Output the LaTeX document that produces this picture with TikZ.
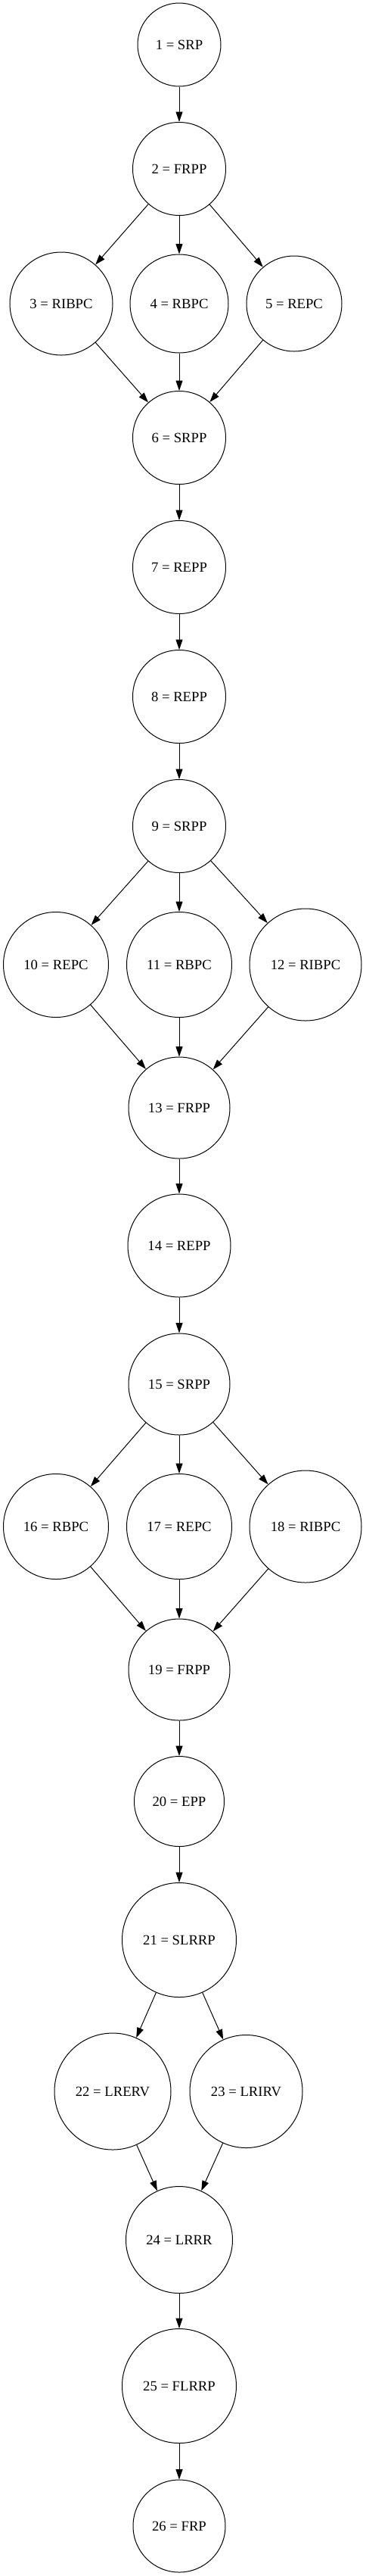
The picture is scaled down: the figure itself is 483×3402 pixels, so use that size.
\documentclass[tikz,border=0pt]{standalone}
\usepackage{fontspec}
\setmainfont{Liberation Serif}
\usetikzlibrary{arrows.meta}

\begin{document}
\begin{tikzpicture}[
    x=0.75pt, y=-0.75pt,
    circ/.style={draw, circle, line width=0.75pt, inner sep=0pt,
                 minimum size=#1*0.75pt, font=\fontsize{14}{16}\selectfont},
    arrow/.style={-{Triangle[length=10pt, width=6.7pt]}, line width=0.75pt, black},
]
\useasboundingbox (0,0) rectangle (483,3402);

% ===== 第一段 =====
\node[circ=110] (srp1)    at (237, 59)  {1 = SRP};
\node[circ=123] (frpp2)   at (237, 223) {2 = FRPP};
\node[circ=136] (ribpc3)  at (81, 401)  {3 = RIBPC};
\node[circ=130] (rbpc4)   at (237, 401) {4 = RBPC};
\node[circ=126] (repc5)   at (389, 401) {5 = REPC};
\node[circ=123] (srpp6)   at (237, 578) {6 = SRPP};
\node[circ=123] (repp7)   at (237, 749) {7 = REPP};
\node[circ=123] (repp8)   at (237, 920) {8 = REPP};

% ===== 第二段 =====
\node[circ=123] (srpp9)   at (237, 1091) {9 = SRPP};
\node[circ=139] (repc10)  at (74, 1274)  {10 = REPC};
\node[circ=139] (rbpc11)  at (237, 1274) {11 = RBPC};
\node[circ=148] (ribpc12) at (404, 1274) {12 = RIBPC};
\node[circ=134] (frpp13)  at (237, 1463) {13 = FRPP};
\node[circ=136] (repp14)  at (237, 1645) {14 = REPP};

% ===== 第三段 =====
\node[circ=134] (srpp15)  at (237, 1828) {15 = SRPP};
\node[circ=139] (rbpc16)  at (74, 2016)  {16 = RBPC};
\node[circ=139] (repc17)  at (237, 2016) {17 = REPC};
\node[circ=148] (ribpc18) at (404, 2016) {18 = RIBPC};
\node[circ=134] (frpp19)  at (237, 2205) {19 = FRPP};
\node[circ=119] (epp20)   at (237, 2379) {20 = EPP};

% ===== 第四段 =====
\node[circ=151] (slrrp21) at (237, 2562)   {21 = SLRRP};
\node[circ=154] (lrerv22) at (149, 2762)   {22 = LRERV};
\node[circ=149] (lrirv23) at (325.5, 2762) {23 = LRIRV};
\node[circ=141] (lrrr24)  at (237, 2958)   {24 = LRRR};
\node[circ=151] (flrrp25) at (237, 3151)   {25 = FLRRP};
\node[circ=122] (frp26)   at (237, 3336)   {26 = FRP};

% ===== 连接箭头 =====
\draw[arrow] (srp1) -- (frpp2);
\draw[arrow] (frpp2) -- (ribpc3);
\draw[arrow] (frpp2) -- (rbpc4);
\draw[arrow] (frpp2) -- (repc5);
\draw[arrow] (ribpc3) -- (srpp6);
\draw[arrow] (rbpc4) -- (srpp6);
\draw[arrow] (repc5) -- (srpp6);
\draw[arrow] (srpp6) -- (repp7);
\draw[arrow] (repp7) -- (repp8);
\draw[arrow] (repp8) -- (srpp9);
\draw[arrow] (srpp9) -- (repc10);
\draw[arrow] (srpp9) -- (rbpc11);
\draw[arrow] (srpp9) -- (ribpc12);
\draw[arrow] (repc10) -- (frpp13);
\draw[arrow] (rbpc11) -- (frpp13);
\draw[arrow] (ribpc12) -- (frpp13);
\draw[arrow] (frpp13) -- (repp14);
\draw[arrow] (repp14) -- (srpp15);
\draw[arrow] (srpp15) -- (rbpc16);
\draw[arrow] (srpp15) -- (repc17);
\draw[arrow] (srpp15) -- (ribpc18);
\draw[arrow] (rbpc16) -- (frpp19);
\draw[arrow] (repc17) -- (frpp19);
\draw[arrow] (ribpc18) -- (frpp19);
\draw[arrow] (frpp19) -- (epp20);
\draw[arrow] (epp20) -- (slrrp21);
\draw[arrow] (slrrp21) -- (lrerv22);
\draw[arrow] (slrrp21) -- (lrirv23);
\draw[arrow] (lrerv22) -- (lrrr24);
\draw[arrow] (lrirv23) -- (lrrr24);
\draw[arrow] (lrrr24) -- (flrrp25);
\draw[arrow] (flrrp25) -- (frp26);
\end{tikzpicture}
\end{document}
